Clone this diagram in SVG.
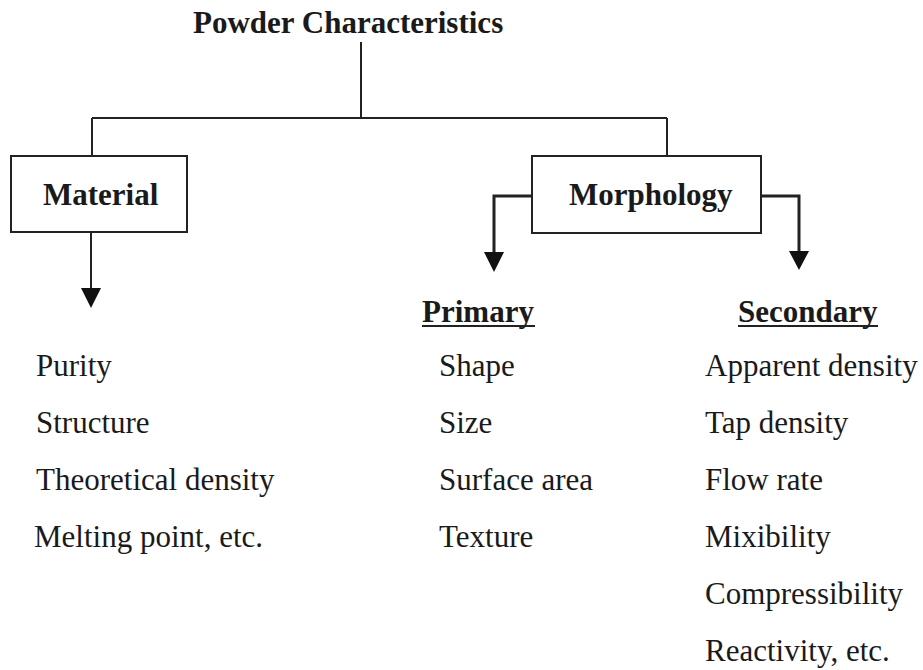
<svg xmlns="http://www.w3.org/2000/svg" width="923" height="670" viewBox="0 0 923 670">
<style>
text{font-family:"Liberation Serif","Times New Roman",serif;fill:#1a1a1a;font-size:31px}
.b{font-weight:bold}
.box{fill:#fff;stroke:#222;stroke-width:2}
.ln{fill:none;stroke:#222;stroke-width:2}
.br{fill:none;stroke:#222;stroke-width:3}
.ah{fill:#111}
</style>
<rect width="923" height="670" fill="#fff"/>
<g id="connectors">
<path class="ln" d="M361,42 V118 M92,118 H667 M92,118 V156 M667,118 V156"/>
<path class="ln" d="M91,232 V290"/>
<polygon class="ah" points="81,288 101,288 91,308"/>
<path class="br" d="M532,196 H494 V254"/>
<polygon class="ah" points="484,252 504,252 494,272"/>
<path class="br" d="M761,196 H799 V252"/>
<polygon class="ah" points="789,251 809,251 799,270"/>
</g>
<g id="title"><text class="b" x="193" y="33">Powder Characteristics</text></g>
<g id="material">
<rect class="box" x="11" y="156" width="176" height="76"/>
<text class="b" x="43" y="205">Material</text>
</g>
<g id="morphology">
<rect class="box" x="532" y="156" width="229" height="77"/>
<text class="b" x="569" y="205">Morphology</text>
</g>
<g id="primary">
<text class="b" x="422" y="322">Primary</text>
<line class="ln" x1="422" y1="326" x2="535" y2="326"/>
</g>
<g id="secondary">
<text class="b" x="738" y="322">Secondary</text>
<line class="ln" x1="738" y1="326" x2="878" y2="326"/>
</g>
<g id="material-list">
<text x="36" y="376">Purity</text>
<text x="36" y="433">Structure</text>
<text x="36" y="490">Theoretical density</text>
<text x="34" y="547">Melting point, etc.</text>
</g>
<g id="primary-list">
<text x="439" y="376">Shape</text>
<text x="439" y="433">Size</text>
<text x="439" y="490">Surface area</text>
<text x="439" y="547">Texture</text>
</g>
<g id="secondary-list">
<text x="705" y="376">Apparent density</text>
<text x="705" y="433">Tap density</text>
<text x="705" y="490">Flow rate</text>
<text x="705" y="547">Mixibility</text>
<text x="705" y="604">Compressibility</text>
<text x="705" y="661">Reactivity, etc.</text>
</g>
</svg>
